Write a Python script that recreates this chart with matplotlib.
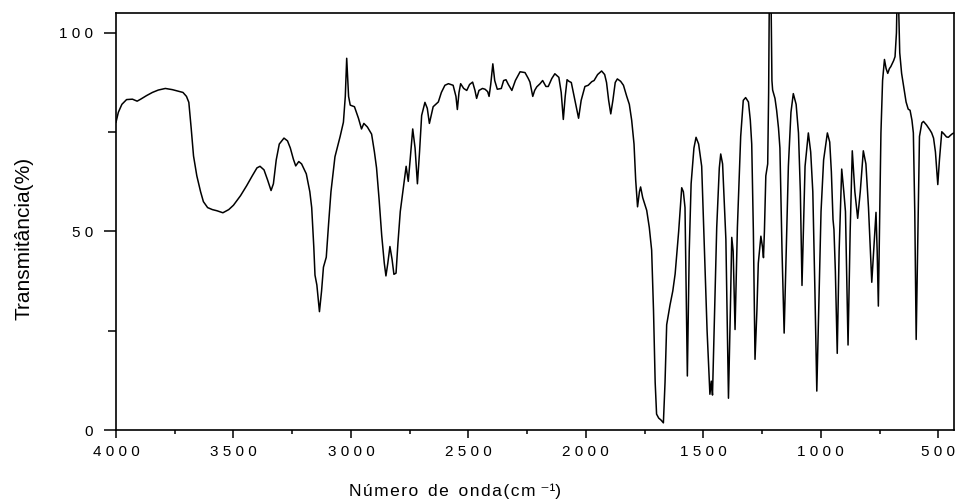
import matplotlib
matplotlib.use("Agg")
import matplotlib.pyplot as plt
from matplotlib.ticker import MultipleLocator, FuncFormatter

# IR spectrum (wavenumber in cm-1, transmittance in %)
wavenumber = [
    4000, 3990, 3975, 3955, 3930, 3910, 3895, 3870, 3845, 3820, 3790, 3760, 3740, 3715,
    3700, 3690, 3680, 3670, 3656, 3640, 3628, 3610, 3590, 3570, 3545, 3520, 3500, 3470,
    3444, 3420, 3400, 3387, 3370, 3355, 3340, 3330, 3318, 3305, 3285, 3270, 3258, 3245,
    3235, 3222, 3210, 3190, 3175, 3167, 3158, 3153, 3145, 3134, 3125, 3117, 3105, 3095,
    3085, 3068, 3046, 3032, 3024, 3018, 3010, 3003, 2985, 2968, 2955, 2945, 2930, 2912,
    2900, 2891, 2880, 2869, 2858, 2851, 2843, 2834, 2825, 2817, 2808, 2800, 2790, 2778,
    2770, 2765, 2756, 2748, 2737, 2727, 2717, 2708, 2699, 2685, 2675, 2666, 2650, 2628,
    2615, 2600, 2585, 2565, 2553, 2547, 2540, 2533, 2520, 2507, 2495, 2482, 2472, 2465,
    2455, 2440, 2429, 2418, 2412, 2405, 2396, 2388, 2377, 2360, 2350, 2340, 2330, 2315,
    2300, 2280, 2259, 2245, 2238, 2226, 2218, 2209, 2195, 2184, 2170, 2160, 2145, 2132,
    2115, 2105, 2096, 2088, 2080, 2072, 2062, 2050, 2031, 2020, 2004, 1990, 1975, 1965,
    1950, 1933, 1920, 1912, 1903, 1894, 1885, 1875, 1866, 1852, 1840, 1826, 1815, 1805,
    1795, 1788, 1780, 1772, 1767, 1758, 1741, 1730, 1720, 1712, 1705, 1699, 1690, 1680,
    1670, 1663, 1656, 1642, 1630, 1620, 1605, 1592, 1585, 1578, 1568, 1560, 1552, 1540,
    1531, 1520, 1507, 1495, 1484, 1472, 1466, 1461, 1452, 1443, 1432, 1426, 1418, 1404,
    1393, 1385, 1379, 1373, 1365, 1355, 1341, 1330, 1320, 1308, 1300, 1294, 1287, 1280,
    1272, 1266, 1255, 1248, 1244, 1240, 1234, 1226, 1222, 1219, 1212, 1208, 1205, 1195,
    1188, 1180, 1174, 1165, 1156, 1147, 1138, 1127, 1117, 1105, 1095, 1087, 1080, 1073,
    1067, 1053, 1043, 1034, 1025, 1017, 1008, 999, 988, 972, 962, 955, 948, 944,
    938, 930, 922, 911, 902, 895, 884, 875, 866, 855, 843, 832, 819, 808,
    797, 789, 783, 775, 765, 760, 755, 749, 744, 737, 729, 722, 715, 708,
    702, 690, 684, 678, 675, 670, 664, 656, 646, 637, 628, 620, 612, 606,
    600, 594, 588, 580, 570, 563, 550, 535, 528, 520, 512, 502, 495, 485,
    475, 465, 457, 448, 440, 433,
]
transmittance = [
    77.5, 80, 82, 83.2, 83.3, 82.8, 83.3, 84.2, 85.0, 85.6, 86.0, 85.7, 85.4, 85.0,
    84.0, 82.5, 76, 69, 64, 60, 57.5, 56, 55.5, 55.2, 54.7, 55.5, 56.6, 59,
    61.5, 64, 66, 66.4, 65.5, 63, 60.3, 62, 68, 72, 73.5, 72.8, 71, 68.2,
    66.5, 67.6, 67, 64.5, 60, 56, 46, 39, 36.5, 29.8, 35, 41, 43.5, 52,
    60, 68.8, 73.9, 77.5, 84, 93.6, 84, 81.8, 81.4, 78.5, 75.8, 77.2, 76.3, 74.5,
    70, 66, 58, 49, 42, 38.8, 42, 46.2, 43, 39.2, 39.5, 47, 55, 60.5,
    64, 66.4, 62.6, 68, 75.8, 71, 62, 70, 79.2, 82.5, 81, 77.2, 81.4, 82.6,
    85, 86.8, 87.2, 86.8, 84, 80.7, 85, 87.2, 86, 85.5, 87, 87.6, 85.5, 83.5,
    85.5, 86, 85.8, 85.2, 84, 87, 92.2, 88, 85.8, 86, 88, 88.2, 87, 85.5,
    88, 90.2, 90, 88.5, 87.6, 84, 85.5, 86.4, 87.2, 88, 86.5, 86.5, 88.5, 89.7,
    88.8, 85, 78.2, 84, 88.2, 87.8, 87.5, 84, 78.5, 83, 86.5, 86.8, 87.7, 88,
    89.5, 90.4, 89.5, 87.5, 83, 79.6, 83, 87.5, 88.4, 87.8, 86.8, 84, 82, 78,
    72, 63, 56.2, 60, 61.2, 58.5, 55.3, 51, 45.3, 30, 12, 4, 3, 2.5,
    1.8, 12, 26.5, 31.4, 35, 39.3, 50, 61, 60, 56, 13.6, 45, 62, 71,
    73.7, 72, 66.4, 45, 25, 9, 12.3, 8.8, 30, 51, 66, 69.5, 67, 48,
    8, 30, 48.5, 45, 25.3, 51, 73.9, 83, 83.7, 82.6, 78, 72, 50, 17.8,
    30, 42, 48.8, 46, 43.4, 50, 64, 67, 85, 110, 110, 88, 85.6, 83.5,
    80.5, 76, 71, 45, 24.4, 45, 66.4, 80, 84.7, 82, 74.8, 60, 36.4, 52,
    66.4, 74.8, 70, 60, 35, 9.8, 32, 55, 68, 74.8, 72.5, 65, 53, 50.5,
    40, 19.3, 45, 65.7, 60, 55, 21.4, 50, 70.3, 60, 53.3, 60, 70.3, 67,
    56, 45, 37.2, 45, 54.8, 45, 31.2, 55, 74.8, 88, 93.3, 91, 89.8, 91,
    91.5, 93, 94, 100, 110, 110, 95, 89.8, 86, 82.6, 80.8, 80.5, 78, 74.8,
    55, 22.8, 45, 73.9, 77.3, 77.7, 76.8, 75.5, 74.8, 73.5, 70, 61.8, 68, 75.1,
    74.5, 73.8, 73.7, 74.2, 74.6, 74.8,
]

FONT = ["Liberation Sans", "DejaVu Sans"]
plt.rcParams["font.family"] = FONT


def spaced(v, pos):
    return " ".join(str(int(round(v))))


fig = plt.figure(figsize=(9.55, 5.03), dpi=100)
ax = fig.add_axes([116 / 955, 73 / 503, 838 / 955, 417 / 503])

ax.plot(wavenumber, transmittance, color="black", linewidth=1.1)

ax.set_xlim(4000, 433)
ax.set_ylim(0, 105)

ax.xaxis.set_major_locator(MultipleLocator(500))
ax.xaxis.set_minor_locator(MultipleLocator(250))
ax.yaxis.set_major_locator(MultipleLocator(50))
ax.yaxis.set_minor_locator(MultipleLocator(25))
ax.xaxis.set_major_formatter(FuncFormatter(spaced))
ax.yaxis.set_major_formatter(FuncFormatter(spaced))

ax.tick_params(axis="x", which="major", direction="out", length=5.8, width=1.1, pad=5, labelsize=11)
ax.tick_params(axis="x", which="minor", direction="out", length=3, width=1.1)
ax.tick_params(axis="y", which="major", direction="out", length=8.6, width=1.1, pad=8, labelsize=11)
ax.tick_params(axis="y", which="minor", direction="out", length=5.5, width=1.1)

for spine in ax.spines.values():
    spine.set_linewidth(1.2)

hs = "\u200a"
label = "  ".join(hs.join(w) for w in ["Número", "de", "onda(cm"]) + " \u207b\u00b9)"
ax.set_xlabel(label, fontsize=12.5)
ax.xaxis.set_label_coords(0.4045, -0.128)
ax.set_ylabel("Transmitância(%)", fontsize=15)
ax.yaxis.set_label_coords(-0.099, 0.46)

fig.savefig("out.png", dpi=100)
